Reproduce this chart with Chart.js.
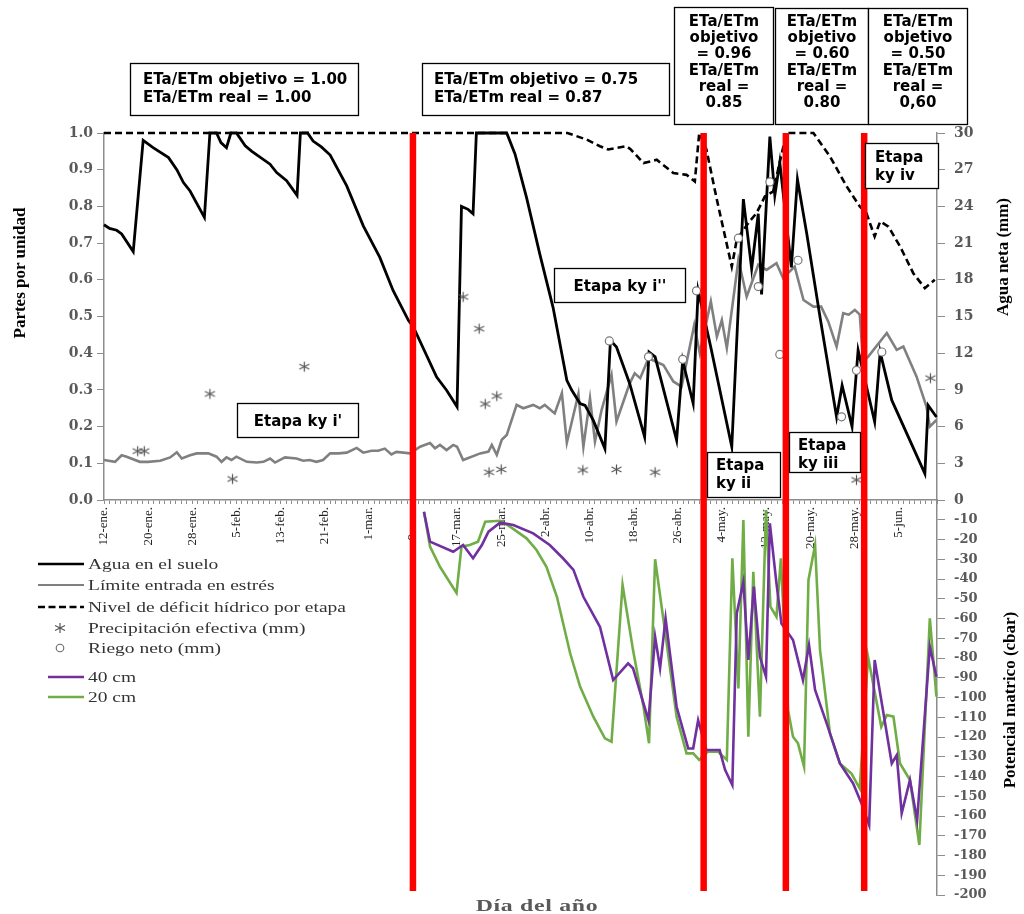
<!DOCTYPE html>
<html><head><meta charset="utf-8">
<script src="https://cdn.jsdelivr.net/npm/chart.js@4.4.1/dist/chart.umd.min.js"></script>
<style>
html,body{margin:0;padding:0;background:#fff;}
#wrap{position:relative;width:1024px;height:914px;overflow:hidden;background:#fff;}
canvas{position:absolute;left:0;top:0;}
#cTop{z-index:1}
#cBot{z-index:2}
#ov{position:absolute;left:0;top:0;z-index:3;pointer-events:none}
</style></head><body>
<div id="wrap">
<canvas id="cTop" width="1024" height="914"></canvas>
<canvas id="cBot" width="1024" height="914"></canvas>
<svg id="ov" width="1024" height="914" xmlns="http://www.w3.org/2000/svg">
  <!-- axis titles -->
  <g font-family="'Liberation Serif','Times New Roman',serif" font-weight="bold" font-size="17" fill="#000">
    <text transform="translate(25 273) rotate(-90)" text-anchor="middle">Partes por unidad</text>
    <text transform="translate(1008 257) rotate(-90)" text-anchor="middle">Agua neta (mm)</text>
    <text transform="translate(1015 700) rotate(-90)" text-anchor="middle">Potencial matrico (cbar)</text>
  </g>
  <text transform="translate(537 911) scale(1.4 1)" text-anchor="middle" font-family="'Liberation Serif',serif" font-weight="bold" font-size="17" fill="#595959" letter-spacing="0.5">Día del año</text>

  <!-- legend -->
  <g font-family="'Liberation Serif','Times New Roman',serif" font-size="15" fill="#333">
    <line x1="38" y1="564" x2="84" y2="564" stroke="#000" stroke-width="2.6"/>
    <text transform="translate(88 569) scale(1.3 1)">Agua en el suelo</text>
    <line x1="38" y1="585" x2="84" y2="585" stroke="#808080" stroke-width="2.2"/>
    <text transform="translate(88 590) scale(1.3 1)">Límite entrada en estrés</text>
    <line x1="38" y1="607" x2="84" y2="607" stroke="#000" stroke-width="2.6" stroke-dasharray="7,3.5"/>
    <text transform="translate(88 612) scale(1.3 1)">Nivel de déficit hídrico por etapa</text>
    <g stroke="#555" stroke-width="1.2">
      <line x1="60" y1="623" x2="60" y2="633"/>
      <line x1="55" y1="625.5" x2="65" y2="630.5"/>
      <line x1="55" y1="630.5" x2="65" y2="625.5"/>
    </g>
    <text transform="translate(88 633) scale(1.3 1)">Precipitación efectiva (mm)</text>
    <circle cx="60" cy="648" r="3.8" fill="#fff" stroke="#666" stroke-width="1.1"/>
    <text transform="translate(88 653) scale(1.3 1)">Riego neto (mm)</text>
    <line x1="48" y1="677" x2="84" y2="677" stroke="#7030a0" stroke-width="2.6"/>
    <text transform="translate(88 682) scale(1.3 1)">40 cm</text>
    <line x1="48" y1="697" x2="84" y2="697" stroke="#70ad47" stroke-width="2.6"/>
    <text transform="translate(88 702) scale(1.3 1)">20 cm</text>
  </g>

  <!-- annotation boxes -->
  <g font-family="'DejaVu Sans',Verdana,sans-serif" font-weight="bold" font-size="15" fill="#000">
    <rect x="130.5" y="63.5" width="228" height="52" fill="#fff" stroke="#000" stroke-width="1.3"/>
    <text x="143" y="84">ETa/ETm objetivo = 1.00</text>
    <text x="143" y="102">ETa/ETm real = 1.00</text>

    <rect x="422.5" y="63.5" width="247" height="52" fill="#fff" stroke="#000" stroke-width="1.3"/>
    <text x="434" y="84">ETa/ETm objetivo = 0.75</text>
    <text x="434" y="102">ETa/ETm real = 0.87</text>

    <rect x="674.5" y="7.5" width="99" height="117" fill="#fff" stroke="#000" stroke-width="1.3"/>
    <g text-anchor="middle">
      <text x="724" y="25.5">ETa/ETm</text>
      <text x="724" y="42">objetivo</text>
      <text x="724" y="58">= 0.96</text>
      <text x="724" y="74.5">ETa/ETm</text>
      <text x="724" y="91">real =</text>
      <text x="724" y="107">0.85</text>
    </g>
    <rect x="775.5" y="8.5" width="93" height="116" fill="#fff" stroke="#000" stroke-width="1.3"/>
    <g text-anchor="middle">
      <text x="822" y="25.5">ETa/ETm</text>
      <text x="822" y="42">objetivo</text>
      <text x="822" y="58">= 0.60</text>
      <text x="822" y="74.5">ETa/ETm</text>
      <text x="822" y="91">real =</text>
      <text x="822" y="107">0.80</text>
    </g>
    <rect x="868.5" y="8.5" width="99" height="116" fill="#fff" stroke="#000" stroke-width="1.3"/>
    <g text-anchor="middle">
      <text x="918" y="25.5">ETa/ETm</text>
      <text x="918" y="42">objetivo</text>
      <text x="918" y="58">= 0.50</text>
      <text x="918" y="74.5">ETa/ETm</text>
      <text x="918" y="91">real =</text>
      <text x="918" y="107">0,60</text>
    </g>

    <rect x="237.5" y="403.5" width="121" height="34" fill="#fff" stroke="#000" stroke-width="1.3"/>
    <text x="298" y="426" text-anchor="middle">Etapa ky i'</text>

    <rect x="554.5" y="268.5" width="131" height="34" fill="#fff" stroke="#000" stroke-width="1.3"/>
    <text x="620" y="291" text-anchor="middle">Etapa ky i''</text>

    <rect x="707.5" y="452.5" width="73" height="45" fill="#fff" stroke="#000" stroke-width="1.3"/>
    <text x="716" y="470">Etapa</text>
    <text x="716" y="488">ky ii</text>

    <rect x="789.5" y="432.5" width="71" height="40" fill="#fff" stroke="#000" stroke-width="1.3"/>
    <text x="798" y="450">Etapa</text>
    <text x="798" y="468">ky iii</text>

    <rect x="865.5" y="143.5" width="73" height="45" fill="#fff" stroke="#000" stroke-width="1.3"/>
    <text x="875" y="162">Etapa</text>
    <text x="875" y="180">ky iv</text>
  </g>
</svg>
</div>
<script>
// ---------- DATA (x = día desde 12-ene, y = valor) ----------
const etiquetasFecha = ['12-ene.','20-ene.','28-ene.','5-feb.','13-feb.','21-feb.','1-mar.','9-mar.','17-mar.','25-mar.','2-abr.','10-abr.','18-abr.','26-abr.','4-may.','12-may.','20-may.','28-may.','5-jun.'];
const pasoEtiqueta = 8;
const diasTotales = 151;

// Agua en el suelo (partes por unidad)
const aguaSuelo = [[0,0.75],[1,0.74],[2.3,0.735],[3.2,0.725],[5.3,0.677],[7.1,0.98],[8.9,0.96],[11.7,0.933],[13.2,0.90],[14.4,0.865],[15.6,0.842],[18.2,0.77],[19.2,1.0],[20.4,1.0],[21.2,0.974],[22.2,0.96],[23,1.0],[24,1.0],[25.6,0.965],[26.8,0.95],[30.1,0.915],[31.3,0.892],[33.1,0.87],[34,0.851],[35,0.83],[35.6,1.0],[36.9,1.0],[37.9,0.978],[39.4,0.962],[41,0.94],[44,0.856],[47,0.747],[50,0.661],[52.4,0.571],[55.2,0.489],[56.1,0.471],[60.3,0.335],[62.1,0.299],[64,0.254],[64.8,0.80],[66,0.792],[66.9,0.78],[67.5,1.0],[73,1.0],[74.5,0.943],[76.6,0.824],[79,0.67],[81.4,0.525],[83.9,0.326],[84.8,0.299],[86.3,0.263],[87.2,0.258],[88.7,0.217],[90.8,0.14],[91.8,0.435],[92.9,0.417],[95.3,0.317],[98,0.172],[98.8,0.403],[99.9,0.39],[103.8,0.163],[104.9,0.38],[106.8,0.263],[107.7,0.571],[110,0.416],[113.8,0.145],[115.9,0.82],[117.4,0.63],[118.6,0.78],[119.2,0.56],[120.7,0.99],[121.6,0.83],[122.5,0.92],[124.6,0.634],[125.7,0.874],[127.4,0.725],[129.8,0.498],[132.8,0.226],[133.8,0.312],[135.6,0.2],[136.7,0.408],[139.7,0.213],[140.7,0.403],[142.8,0.272],[148.8,0.072],[149.4,0.258],[150.9,0.226]];

// Límite entrada en estrés (partes por unidad)
const limiteEstres = [[0,0.109],[2,0.104],[3.2,0.122],[4.1,0.118],[6.5,0.104],[8,0.104],[10.2,0.107],[12,0.116],[13.2,0.13],[14.1,0.113],[15.6,0.122],[16.8,0.127],[18.9,0.127],[20.4,0.118],[21.3,0.104],[22.2,0.116],[23.1,0.109],[24,0.118],[25.9,0.104],[27.7,0.102],[28.9,0.104],[30.1,0.113],[31,0.102],[32.8,0.116],[34.9,0.113],[36.1,0.107],[37.3,0.109],[38.5,0.104],[39.7,0.109],[41,0.127],[42.5,0.127],[44,0.129],[45.8,0.142],[47,0.129],[48.5,0.134],[49.7,0.134],[50.9,0.14],[52.1,0.124],[53,0.131],[55.5,0.127],[57.3,0.145],[59.1,0.155],[60,0.141],[60.9,0.15],[62.1,0.136],[63.3,0.15],[64,0.145],[65.1,0.109],[68.2,0.127],[69.7,0.132],[70.3,0.15],[71.2,0.123],[72.1,0.164],[73,0.177],[74.8,0.259],[76,0.25],[77.8,0.259],[79,0.25],[79.9,0.259],[81.7,0.236],[83,0.291],[83.9,0.156],[86,0.289],[86.9,0.145],[88.1,0.277],[89,0.159],[90.2,0.245],[92,0.341],[92.9,0.214],[95.3,0.318],[96.2,0.345],[97.2,0.332],[98.7,0.386],[101.4,0.368],[103.2,0.323],[104.7,0.309],[107,0.477],[108,0.40],[110,0.541],[111.1,0.445],[112,0.49],[112.9,0.414],[115,0.654],[116.5,0.554],[118.6,0.641],[120.1,0.627],[121.9,0.645],[123.1,0.605],[125.2,0.636],[126.8,0.545],[128.6,0.527],[130,0.527],[131.3,0.486],[132.8,0.418],[134,0.509],[135,0.505],[136.1,0.518],[137,0.505],[137.6,0.377],[138.5,0.39],[141.9,0.455],[143.7,0.409],[144.9,0.418],[147.3,0.336],[149.1,0.254],[149.7,0.2],[150.9,0.218]];

// Nivel de déficit hídrico por etapa (partes por unidad)
const nivelDeficit = [[0,1],[84,1],[87.5,0.982],[89.9,0.964],[91.4,0.955],[94.7,0.964],[95.5,0.955],[97.8,0.918],[100.2,0.927],[103.2,0.891],[105.6,0.886],[107.1,0.868],[107.9,1.0],[109.2,0.955],[111.1,0.818],[113.8,0.636],[114.7,0.709],[116.8,0.755],[118.3,0.782],[119.8,0.827],[121.3,0.841],[123.7,1.0],[128.6,1.0],[131.6,0.936],[134.6,0.855],[137,0.8],[138.2,0.782],[139.7,0.718],[140.7,0.759],[142.2,0.745],[144.3,0.691],[146.7,0.618],[148.8,0.577],[150.6,0.6]];

// Precipitación efectiva (mm)
const precipitacion = [[6.1,4.0],[7.3,4.0],[19.2,8.67],[23.3,1.72],[36.3,10.9],[65.1,16.6],[68,14.0],[69.1,7.85],[71.2,8.5],[69.8,2.27],[72,2.5],[86.8,2.45],[92.9,2.5],[99.9,2.27],[136.4,1.64],[149.8,9.96]];

// Riego neto (mm)
const riegoNeto = [[91.6,13.0],[98.7,11.7],[104.9,11.5],[107.4,17.1],[115,21.4],[118.6,17.45],[120.7,26.0],[122.5,11.9],[125.8,19.6],[133.7,6.8],[136.4,10.6],[141,12.1]];

// Potencial mátrico 40 cm (cbar)
const sensor40 = [[58,-6],[59.1,-21.1],[63.3,-26.2],[65.1,-22.8],[66.9,-29.5],[68.5,-22.8],[69.7,-16],[71.8,-11.5],[74.2,-12.7],[77.8,-16.9],[80.8,-22.8],[83.2,-29.5],[85.1,-35.4],[86.9,-49],[89.9,-64.2],[92.3,-91.2],[95,-82.7],[95.9,-85.2],[98.7,-111.5],[99.9,-69.3],[100.8,-85.2],[101.8,-59.9],[103.8,-104.7],[105.9,-125.8],[106.8,-125.8],[107.7,-111.5],[109.2,-126.6],[111.6,-126.6],[112.6,-136.7],[113.9,-144.3],[114.7,-57.4],[115.9,-41.4],[116.8,-81],[117.8,-43.9],[118.9,-79.4],[120,-89.5],[120.7,-11.8],[121.9,-42.2],[122.8,-62.5],[124.9,-70.9],[126.7,-91.2],[127.8,-73.4],[128.9,-96.2],[131,-113.1],[133.4,-133.4],[135.8,-143.5],[137.3,-153.6],[138.7,-164.6],[139.7,-81],[142.8,-133.4],[143.7,-129.2],[144.6,-158.7],[146.1,-141.8],[147.4,-162.1],[149.7,-74.3],[150.9,-89.5]];

// Potencial mátrico 20 cm (cbar)
const sensor20 = [[58,-6],[59.1,-23.6],[60.9,-33.8],[63.9,-47],[64.8,-23.6],[66.3,-22.8],[67.8,-21.1],[69.1,-11],[71.8,-10.5],[73.6,-13.5],[76.6,-19.4],[78.4,-25.3],[80.2,-33.8],[82.1,-49],[84.5,-77.6],[86.3,-94.5],[88.7,-109.7],[90.8,-120.7],[92,-122.4],[94,-43],[95.9,-76],[97.8,-104.7],[98.8,-123.2],[99.9,-30],[102,-72.6],[103.8,-109.7],[105.6,-128.3],[106.8,-128.3],[107.9,-131.6],[109.5,-127.4],[111.3,-127.4],[112.9,-131.6],[113.9,-29.5],[115,-95.4],[115.9,-10.1],[116.8,-119.9],[117.7,-36.3],[118.9,-109.7],[120,-5.1],[120.8,-54],[121.9,-59.1],[122.7,-29.5],[124,-106.4],[124.9,-119.9],[125.8,-123.2],[126.9,-135],[127.7,-40.5],[128.9,-22.8],[129.8,-76],[131.6,-118.2],[133.4,-133.4],[135.5,-138.5],[137,-146.1],[138.5,-79.4],[140.9,-114.8],[141.9,-108.9],[143.1,-109.7],[144.3,-133.4],[146.1,-141.8],[147.8,-174.7],[149.7,-59.9],[150.9,-99.6]];

// Cambios de etapa (día) – líneas rojas
const cambioEtapa = [56, 108.7, 123.6, 137.8];
const fondoRojoInferior = -198;

// ---------- helpers ----------
const pts = a => a.map(([x, y]) => ({x, y}));
const serif = "'Liberation Serif','Times New Roman',serif";
const tickFont = {family: "'DejaVu Serif','Liberation Serif',serif", size: 14, weight: 'bold'};
const gris = '#595959';
const ejeColor = '#8c8c8c';

function asterisco(color) {
  const c = document.createElement('canvas');
  c.width = 13; c.height = 13;
  const g = c.getContext('2d');
  g.strokeStyle = color; g.lineWidth = 1.2; g.translate(6.5, 6.5);
  [[0, -5], [5, -2.5], [5, 2.5]].forEach(([dx, dy]) => {
    g.beginPath(); g.moveTo(-dx, -dy); g.lineTo(dx, dy); g.stroke();
  });
  return c;
}
const imgAst = asterisco('#555');

const rojoTop = cambioEtapa.flatMap(d => [{x: d, y: 1}, {x: d, y: 0}, {x: d, y: null}]);
const rojoBot = cambioEtapa.flatMap(d => [{x: d, y: 0}, {x: d, y: fondoRojoInferior}, {x: d, y: null}]);

Chart.defaults.animation = false;

// ---------- upper chart ----------
new Chart(document.getElementById('cTop'), {
  type: 'line',
  data: {
    datasets: [
      {label: 'Cambio de etapa', data: rojoTop, yAxisID: 'y', borderColor: '#ff0000', borderWidth: 6.5, pointRadius: 0, spanGaps: false, clip: false},
      {label: 'Riego neto (mm)', data: pts(riegoNeto), yAxisID: 'y2', showLine: false, pointStyle: 'circle', pointRadius: 4, borderColor: '#7a7a7a', backgroundColor: '#fff', borderWidth: 1.2, clip: false},
      {label: 'Precipitación efectiva (mm)', data: pts(precipitacion), yAxisID: 'y2', showLine: false, pointStyle: imgAst, pointRadius: 6, clip: false},
      {label: 'Agua en el suelo', data: pts(aguaSuelo), yAxisID: 'y', borderColor: '#000', borderWidth: 2.8, pointRadius: 0, clip: false},
      {label: 'Límite entrada en estrés', data: pts(limiteEstres), yAxisID: 'y', borderColor: '#808080', borderWidth: 2.6, pointRadius: 0, clip: false},
      {label: 'Nivel de déficit hídrico por etapa', data: pts(nivelDeficit), yAxisID: 'y', borderColor: '#000', borderWidth: 2.6, borderDash: [7, 4], pointRadius: 0, clip: false}
    ]
  },
  options: {
    responsive: false, maintainAspectRatio: false, devicePixelRatio: 1,
    layout: {autoPadding: false, padding: {top: 133, bottom: 354, left: 0, right: 0}},
    plugins: {legend: {display: false}, tooltip: {enabled: false}},
    elements: {line: {tension: 0}},
    scales: {
      x: {
        type: 'linear', min: 0, max: diasTotales, position: 'bottom',
        grid: {drawOnChartArea: false, drawTicks: true, tickLength: 4, color: ejeColor, lineWidth: 1},
        border: {display: true, color: ejeColor, width: 1.5},
        ticks: {
          stepSize: 1, autoSkip: false, maxTicksLimit: 300, minRotation: 90, maxRotation: 90, padding: 3,
          color: '#222', font: {family: serif, size: 13},
          callback: v => { const i = Math.round(v); return (i % pasoEtiqueta === 0 && etiquetasFecha[i / pasoEtiqueta]) ? etiquetasFecha[i / pasoEtiqueta] : ''; }
        },
        afterFit: s => { s.height = 60; }
      },
      y: {
        position: 'left', min: 0, max: 1,
        grid: {drawOnChartArea: false, tickLength: 7, color: ejeColor},
        border: {display: true, color: ejeColor, width: 1.5},
        ticks: {stepSize: 0.1, padding: 4, color: gris, font: tickFont, callback: v => v.toFixed(1)},
        afterFit: s => { s.width = 104; }
      },
      y2: {
        position: 'right', min: 0, max: 30,
        grid: {drawOnChartArea: false, tickLength: 8, color: ejeColor},
        border: {display: true, color: ejeColor, width: 1.5},
        ticks: {stepSize: 3, padding: 9, color: gris, font: tickFont},
        afterFit: s => { s.width = 87; }
      }
    }
  }
});

// ---------- lower chart ----------
new Chart(document.getElementById('cBot'), {
  type: 'line',
  data: {
    datasets: [
      {label: 'Cambio de etapa', data: rojoBot, borderColor: '#ff0000', borderWidth: 6.5, pointRadius: 0, spanGaps: false, clip: false},
      {label: '40 cm', data: pts(sensor40), borderColor: '#7030a0', borderWidth: 2.6, pointRadius: 0, clip: false},
      {label: '20 cm', data: pts(sensor20), borderColor: '#70ad47', borderWidth: 2.6, pointRadius: 0, clip: false}
    ]
  },
  options: {
    responsive: false, maintainAspectRatio: false, devicePixelRatio: 1,
    layout: {autoPadding: false, padding: {top: 500, bottom: 19, left: 104, right: 0}},
    plugins: {legend: {display: false}, tooltip: {enabled: false}},
    elements: {line: {tension: 0}},
    scales: {
      x: {type: 'linear', min: 0, max: diasTotales, display: false},
      y: {
        position: 'right', min: -200, max: 0,
        grid: {drawOnChartArea: false, tickLength: 8, color: ejeColor},
        border: {display: true, color: ejeColor, width: 1.5},
        ticks: {stepSize: 10, padding: 9, color: gris, font: {family: "'DejaVu Serif','Liberation Serif',serif", size: 13, weight: 'bold'}, callback: v => v === 0 ? '' : v},
        afterFit: s => { s.width = 87; }
      }
    }
  }
});
</script>
</body></html>
